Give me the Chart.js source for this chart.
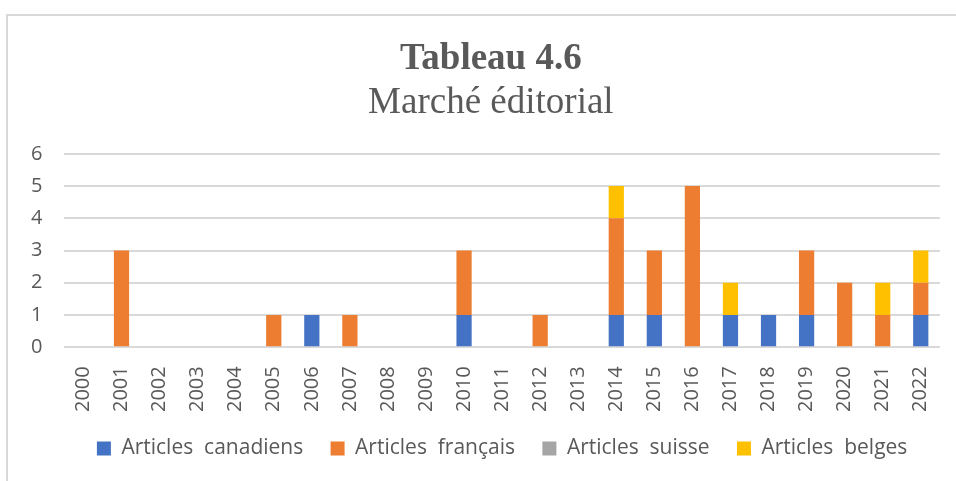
<!DOCTYPE html>
<html>
<head>
<meta charset="utf-8">
<script src="https://cdn.jsdelivr.net/npm/chart.js@4.4.0/dist/chart.umd.min.js"></script>
<style>
  html, body { margin: 0; padding: 0; background: #fff; overflow: hidden; }
  #frame { position: absolute; left: 6px; top: 14px; width: 960px; height: 480px; border: 2px solid #d9d9d9; box-sizing: border-box; }
  #wrap { position: absolute; left: 0; top: 0; width: 956px; height: 481px; }
</style>
</head>
<body>
<div id="frame"></div>
<div id="wrap"><canvas id="barChart"></canvas></div>
<script>
var years = ['2000', '2001', '2002', '2003', '2004', '2005', '2006', '2007', '2008', '2009', '2010', '2011',
    '2012', '2013', '2014', '2015', '2016', '2017', '2018', '2019', '2020', '2021', '2022'];
var canadiens = [0, 0, 0, 0, 0, 0, 1, 0, 0, 0, 1, 0, 0, 0, 1, 1, 0, 1, 1, 1, 0, 0, 1];
var francais  = [0, 3, 0, 0, 0, 1, 0, 1, 0, 0, 2, 0, 1, 0, 3, 2, 5, 0, 0, 2, 2, 1, 1];
var suisse    = [0, 0, 0, 0, 0, 0, 0, 0, 0, 0, 0, 0, 0, 0, 0, 0, 0, 0, 0, 0, 0, 0, 0];
var belges    = [0, 0, 0, 0, 0, 0, 0, 0, 0, 0, 0, 0, 0, 0, 1, 0, 0, 1, 0, 0, 0, 1, 1];
var seriesNames = ['Articles  canadiens', 'Articles  français', 'Articles  suisse', 'Articles  belges'];

var gray = '#595959';
// trailing spaces widen the gap between legend items without adding vertical padding
var gap = '   ';
// leading spaces nudge the centred titles a bit to the right, like the original
var nudge = '   ';

var ctxBarChart = document.getElementById('barChart').getContext('2d');
var barChart = new Chart(ctxBarChart, {
    type: 'bar',
    data: {
        labels: years,
        datasets: [{
            label: seriesNames[0] + gap,
            backgroundColor: '#4472c4',
            data: canadiens
        }, {
            label: seriesNames[1] + gap,
            backgroundColor: '#ed7d31',
            data: francais
        }, {
            label: seriesNames[2] + gap,
            backgroundColor: '#a5a5a5',
            data: suisse
        }, {
            label: seriesNames[3],
            backgroundColor: '#ffc000',
            data: belges
        }]
    },
    options: {
        responsive: true,
        maintainAspectRatio: false,
        animation: false,
        barPercentage: 0.4,
        categoryPercentage: 1.0,
        layout: { padding: { left: 9, right: 11, top: 37, bottom: 12 } },
        plugins: {
            title: {
                display: true,
                text: nudge + 'Tableau 4.6',
                color: gray,
                font: { family: 'Liberation Serif', size: 37, weight: 'bold' },
                padding: { top: 0, bottom: 0 }
            },
            subtitle: {
                display: true,
                text: nudge + 'Marché éditorial',
                color: gray,
                font: { family: 'Liberation Serif', size: 37 },
                padding: { top: 0, bottom: 28 }
            },
            legend: {
                position: 'bottom',
                fullSize: false,
                labels: {
                    color: gray,
                    boxWidth: 14,
                    boxHeight: 14,
                    padding: 11,
                    font: { family: 'Open Sans', size: 21 }
                }
            },
            tooltip: { enabled: false }
        },
        scales: {
            x: {
                stacked: true,
                grid: { display: false },
                border: { display: false },
                afterFit: function (scale) { scale.height += 4; },
                ticks: {
                    color: gray,
                    minRotation: 90,
                    maxRotation: 90,
                    padding: 11,
                    font: { family: 'Open Sans', size: 20 }
                }
            },
            y: {
                stacked: true,
                min: 0,
                max: 6,
                ticks: {
                    stepSize: 1,
                    color: gray,
                    padding: 22,
                    font: { family: 'Open Sans', size: 20 }
                },
                grid: { color: '#d9d9d9', lineWidth: 2, drawTicks: false },
                border: { display: false }
            }
        }
    }
});
</script>
</body>
</html>
